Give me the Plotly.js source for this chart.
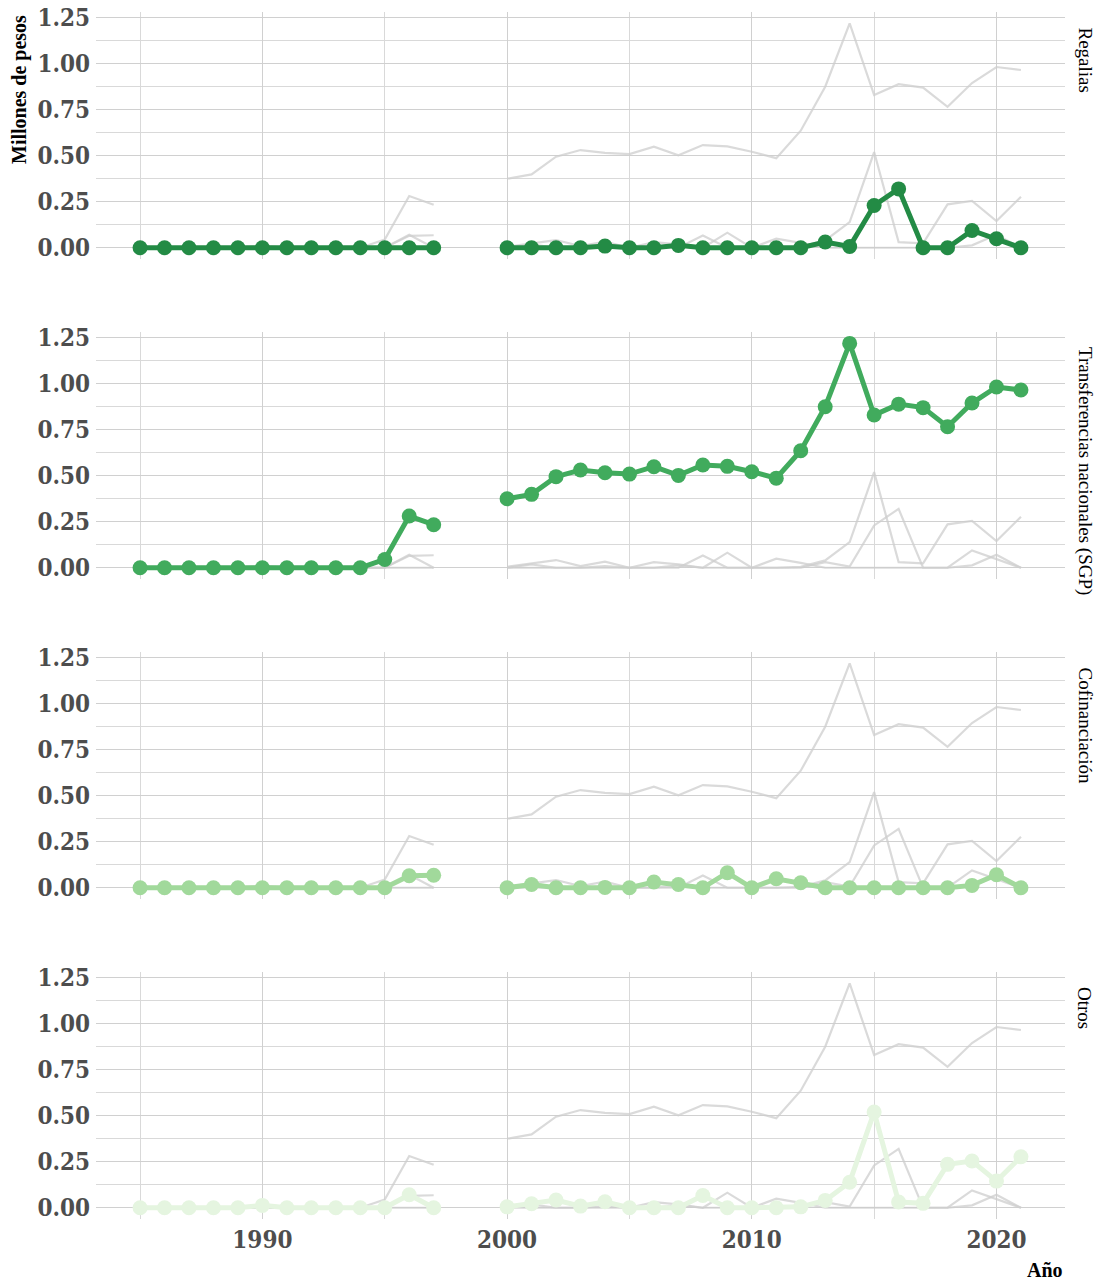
<!DOCTYPE html>
<html>
<head>
<meta charset="utf-8">
<script src="https://cdn.plot.ly/plotly-3.0.1.min.js"></script>
<style>
html,body{margin:0;padding:0;background:#fff;}
#chart{width:1102px;height:1284px;}
</style>
</head>
<body>
<div id="chart"></div>
<script>
// ---- data (millions of pesos) ----
const years = [1985,1986,1987,1988,1989,1990,1991,1992,1993,1994,1995,1996,1997,1998,1999,
  2000,2001,2002,2003,2004,2005,2006,2007,2008,2009,2010,2011,2012,2013,2014,2015,2016,2017,2018,2019,2020,2021];

const regalias = [0,0,0,0,0,0,0,0,0,0,0,0,0,null,null,
  0,0,0,0,0.009,0,0,0.013,0,0,0,0,0,0.031,0.007,0.23,0.32,0,0,0.094,0.049,0];

const sgp = [0,0,0,0,0,0,0,0,0,0,0.045,0.281,0.234,null,null,
  0.375,0.399,0.495,0.531,0.516,0.509,0.549,0.502,0.558,0.551,0.522,0.487,0.636,0.875,1.219,0.830,0.889,0.870,0.766,0.895,0.982,0.966];

const cofinanciacion = [0,0,0,0,0,0,0,0,0,0,0,0.065,0.068,null,null,
  0,0.018,0,0,0.002,0,0.031,0.018,0,0.082,0,0.049,0.027,0,0,0,0,0,0,0.013,0.071,0];

const otros = [0,0,0,0,0,0.013,0,0,0,0,0,0.071,0,null,null,
  0.005,0.022,0.042,0.009,0.033,0,0,0,0.067,0,0,0,0.005,0.04,0.139,0.52,0.031,0.024,0.236,0.254,0.145,0.277];

const seriesNames = ['Regalias','Transferencias nacionales (SGP)','Cofinanciación','Otros'];
const seriesValues = [regalias, sgp, cofinanciacion, otros];
const seriesColors = ['#238b45','#41ab5d','#a1d99b','#e5f5e0'];

const yTitle = 'Millones de pesos';
const xTitle = 'Año';

// ---- layout geometry ----
const W = 1102, H = 1284;
const mL = 96, mR = 37, mT = 12, mB = 65;
const plotH = H - mT - mB;
const panelH = 247, gapH = 73;
const tickFont = {family: 'DejaVu Serif Condensed, Liberation Serif, serif', size: 24, color: '#4d4d4d', weight: 'bold'};
const labelFont = {family: 'Liberation Serif, serif', size: 19, color: '#000', weight: 'normal'};
const titleFont = {family: 'Liberation Serif, serif', size: 20, color: '#000', weight: 'bold'};

const traces = [];
const layout = {
  width: W, height: H,
  margin: {l: mL, r: mR, t: mT, b: mB},
  paper_bgcolor: '#fff', plot_bgcolor: '#fff',
  showlegend: false,
  annotations: [],
  font: {family: 'Liberation Serif, serif', size: 19, color: '#000'}
};

for (let p = 0; p < 4; p++) {
  const idx = p + 1;
  const ax = idx === 1 ? '' : String(idx);
  const topPx = p * (panelH + gapH);
  const top = 1 - topPx / plotH;
  const bottom = 1 - (topPx + panelH) / plotH;

  layout['xaxis' + ax] = {
    anchor: 'y' + ax,
    domain: [0, 1],
    range: [1983.2, 2022.8],
    tick0: 1990, dtick: 10,
    showgrid: true, gridcolor: '#d0d0d0', gridwidth: 1,
    minor: {dtick: 5, tick0: 1985, showgrid: true, gridcolor: '#d9d9d9', gridwidth: 1},
    zeroline: false, showline: false, ticks: '',
    showticklabels: p === 3,
    ticklabelstandoff: 4,
    tickfont: tickFont,
    fixedrange: true
  };
  layout['yaxis' + ax] = {
    anchor: 'x' + ax,
    domain: [bottom, top],
    range: [-0.061, 1.281],
    tick0: 0, dtick: 0.25,
    tickformat: '.2f',
    showgrid: true, gridcolor: '#d0d0d0', gridwidth: 1,
    minor: {dtick: 0.125, tick0: 0, showgrid: true, gridcolor: '#d9d9d9', gridwidth: 1},
    zeroline: false, showline: false, ticks: '',
    ticklabelstandoff: 5,
    tickfont: tickFont,
    fixedrange: true
  };

  // grey context lines
  for (let s = 0; s < 4; s++) {
    if (s === p) continue;
    traces.push({
      x: years, y: seriesValues[s], type: 'scatter', mode: 'lines',
      xaxis: 'x' + ax, yaxis: 'y' + ax,
      line: {color: 'rgba(205,205,205,0.75)', width: 2.2},
      hoverinfo: 'skip', name: seriesNames[s]
    });
  }
  // highlighted series
  traces.push({
    x: years, y: seriesValues[p], type: 'scatter', mode: 'lines+markers',
    xaxis: 'x' + ax, yaxis: 'y' + ax,
    line: {color: seriesColors[p], width: 5},
    marker: {color: seriesColors[p], size: 15},
    name: seriesNames[p]
  });

  // strip label (right side, rotated)
  layout.annotations.push({
    text: seriesNames[p],
    xref: 'paper', yref: 'paper',
    x: (1085 - mL) / (W - mL - mR), xanchor: 'center',
    y: 1 - (topPx + 13) / plotH, yanchor: 'top',
    textangle: 90, showarrow: false,
    font: labelFont
  });
}

layout.annotations.push({
  text: yTitle, xref: 'paper', yref: 'paper',
  x: (20 - mL) / (W - mL - mR), xanchor: 'center',
  y: 1 - (90 - mT) / plotH, yanchor: 'middle',
  textangle: -90, showarrow: false,
  font: titleFont
});
layout.annotations.push({
  text: xTitle, xref: 'paper', yref: 'paper',
  x: 1, xanchor: 'right',
  y: 1 - (1270 - mT) / plotH, yanchor: 'middle',
  showarrow: false,
  font: titleFont
});

Plotly.newPlot('chart', traces, layout, {displayModeBar: false, staticPlot: true});
</script>
</body>
</html>
